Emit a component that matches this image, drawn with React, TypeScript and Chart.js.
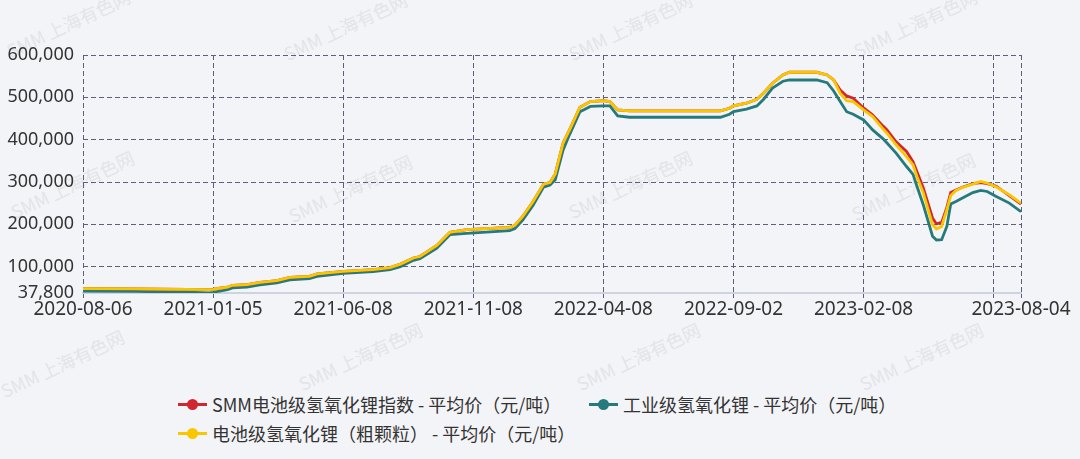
import React, { useEffect, useRef } from 'react';
import { Chart, registerables } from 'chart.js';

Chart.register(...registerables);

// trading-day index (0 = 2020-08-06, 721 = 2023-08-04)
const dayIndex = [
  0, 40, 80, 97, 100, 105, 111, 115, 126, 136, 149, 159, 174, 180, 200, 223, 236, 244, 254, 259,
  272, 282, 295, 328, 332, 338, 346, 354, 359, 363, 369, 374, 382, 390, 400, 405, 411, 420, 490, 497,
  500, 510, 518, 523, 530, 538, 543, 564, 572, 577, 582, 587, 592, 600, 607, 615, 618, 625, 633, 638,
  641, 646, 653, 656, 660, 664, 667, 671, 676, 684, 690, 695, 702, 712, 721,
];

// SMM电池级氢氧化锂指数 - 平均价（元/吨）
const smmIndex = [
  48000, 47500, 46500, 45800, 46500, 49000, 51500, 56000, 57600, 63000, 67000, 74800, 77100, 82800, 89000, 93000, 98000, 106000, 120500, 124000,
  150000, 181000, 187300, 192700, 197400, 218600, 254000, 295000, 298800, 319000, 391700, 423000, 476600, 489900, 492300, 490000, 470300, 467900, 467900, 474200,
  479700, 486100, 495500, 509700, 533300, 552800, 559200, 559200, 552800, 541000, 517400, 503300, 497900, 475000, 458000, 432000, 423100, 395000, 372000, 348000,
  325000, 285000, 215000, 201000, 204500, 240000, 275000, 281000, 287500, 296000, 298800, 296000, 290000, 268000, 248000,
];

// 工业级氢氧化锂 - 平均价（元/吨）
const industrial = [
  42000, 41500, 40000, 38000, 39500, 42500, 45500, 50000, 52000, 57000, 61500, 69000, 72000, 77000, 84000, 88500, 93000, 100000, 115000, 119000,
  144000, 175500, 178500, 185000, 190000, 210000, 245000, 288000, 293000, 305000, 375000, 412000, 466000, 478500, 479700, 479700, 456100, 453000, 453000, 460000,
  466300, 472000, 479700, 495000, 522000, 538000, 541000, 541000, 534700, 515000, 490000, 466000, 460000, 446700, 423100, 402000, 392000, 368100, 336600, 318000,
  290000, 245000, 172000, 163000, 163700, 195000, 248000, 254000, 262000, 275000, 280000, 277600, 265800, 250200, 230000,
];

// 电池级氢氧化锂（粗颗粒） - 平均价（元/吨）
const coarse = [
  48000, 47500, 46500, 45800, 46500, 49000, 51500, 56000, 57600, 63000, 67000, 74800, 77100, 82800, 89000, 93000, 98000, 106000, 120500, 124000,
  150000, 181000, 187300, 192700, 197400, 218600, 254000, 295000, 298800, 319000, 391700, 423000, 476600, 489900, 492300, 490000, 470300, 467900, 467900, 474200,
  479700, 486100, 495500, 509700, 533300, 552800, 559200, 559200, 552800, 541000, 509700, 492300, 490000, 470300, 454500, 425000, 415300, 388000, 360100, 340600,
  313000, 273800, 199100, 189000, 195000, 234400, 268000, 280000, 287000, 295000, 301300, 297500, 288000, 269800, 250000,
];

const xTickIndex = [0, 100, 200, 300, 400, 500, 600, 700, 721];
const xTickLabels = ['2020-08-06', '2021-01-05', '2021-06-08', '2021-11-08', '2022-04-08', '2022-09-02', '2023-02-08', '', '2023-08-04'];
const yTickValues = [37800, 100000, 200000, 300000, 400000, 500000, 600000];

const seriesNames = [
  'SMM电池级氢氧化锂指数 - 平均价（元/吨）',
  '工业级氢氧化锂 - 平均价（元/吨）',
  '电池级氢氧化锂（粗颗粒） - 平均价（元/吨）',
];
const seriesColors = ['#d0262d', '#257a7c', '#f8c700'];

const watermarkPos = [
  [68, 22], [345, 25], [630, 25], [915, 22],
  [72, 183], [350, 187], [630, 183], [913, 185],
  [62, 362], [360, 355], [638, 355], [921, 355],
];

const FONT = "'Noto Sans', 'Noto Sans CJK SC', sans-serif";

function LegendItem({ color, label, left, top }: { color: string; label: string; left: number; top: number }) {
  return (
    <div style={{ position: 'absolute', left, top, height: 24, display: 'flex', alignItems: 'center', whiteSpace: 'nowrap' }}>
      <div style={{ position: 'relative', width: 29, height: 24, marginRight: 5 }}>
        <div style={{ position: 'absolute', left: 0, top: 11, width: 29, height: 2.5, background: color }} />
        <div style={{ position: 'absolute', left: 9, top: 6.5, width: 11, height: 11, borderRadius: '50%', background: color }} />
      </div>
      <span style={{ fontFamily: "'Noto Sans CJK SC', sans-serif", fontSize: 18, color: '#333' }}>{label}</span>
    </div>
  );
}

export default function App() {
  const ref = useRef<HTMLCanvasElement | null>(null);

  useEffect(() => {
    document.body.style.margin = '0';
    const canvas = ref.current;
    if (!canvas) return;
    const mk = (vals: number[]) => dayIndex.map((x, i) => ({ x, y: vals[i] }));
    const chart = new Chart(canvas, {
      type: 'line',
      data: {
        datasets: [
          { label: seriesNames[2], data: mk(coarse), borderColor: seriesColors[2], backgroundColor: seriesColors[2], borderWidth: 2.8, pointRadius: 0, tension: 0, order: 0 },
          { label: seriesNames[0], data: mk(smmIndex), borderColor: seriesColors[0], backgroundColor: seriesColors[0], borderWidth: 2.8, pointRadius: 0, tension: 0, order: 1 },
          { label: seriesNames[1], data: mk(industrial), borderColor: seriesColors[1], backgroundColor: seriesColors[1], borderWidth: 2.8, pointRadius: 0, tension: 0, order: 2 },
        ],
      },
      options: {
        animation: false,
        responsive: false,
        layout: { padding: { top: 55, right: 59, left: 0, bottom: 0 } },
        plugins: { legend: { display: false }, tooltip: { enabled: false } },
        scales: {
          x: {
            type: 'linear',
            min: 0,
            max: 721,
            afterBuildTicks: (s: any) => { s.ticks = xTickIndex.map((v) => ({ value: v })); },
            afterFit: (s: any) => { s.height = 37; },
            ticks: {
              autoSkip: false,
              maxRotation: 0,
              padding: 0,
              color: '#333',
              font: { family: FONT, size: 19 },
              callback: (v: any) => {
                const i = xTickIndex.indexOf(Number(v));
                return i >= 0 ? xTickLabels[i] : '';
              },
            },
            grid: { color: '#5c607a', lineWidth: 1, drawTicks: true, tickLength: 5 },
            border: { display: true, color: '#cfd2df', width: 2, dash: [5, 3] },
          },
          y: {
            min: 37800,
            max: 600000,
            afterBuildTicks: (s: any) => { s.ticks = yTickValues.map((v) => ({ value: v })); },
            afterFit: (s: any) => { s.width = 83; },
            ticks: {
              padding: 9,
              color: '#333',
              font: { family: FONT, size: 18 },
              callback: (v: any) => Number(v).toLocaleString('en-US'),
            },
            grid: {
              color: (c: any) => (c.tick && c.tick.value === 37800 ? 'rgba(0,0,0,0)' : '#5c607a'),
              lineWidth: 1,
              drawTicks: false,
            },
            border: { display: false, dash: [5, 3] },
          },
        },
      },
    });
    return () => chart.destroy();
  }, []);

  return (
    <div style={{ position: 'relative', width: 1080, height: 459, background: '#f3f4f7', overflow: 'hidden' }}>
      {watermarkPos.map(([x, y], i) => (
        <div
          key={i}
          style={{
            position: 'absolute',
            left: x - 70,
            top: y - 12,
            width: 140,
            textAlign: 'center',
            transform: 'rotate(-25deg)',
            fontFamily: "'Noto Sans CJK SC', sans-serif",
            fontSize: 18,
            color: '#e3e4e8',
            whiteSpace: 'nowrap',
          }}
        >
          SMM 上海有色网
        </div>
      ))}
      <canvas ref={ref} width={1080} height={330} style={{ position: 'absolute', left: 0, top: 0, width: 1080, height: 330 }} />
      <LegendItem color={seriesColors[0]} label={seriesNames[0]} left={178} top={392} />
      <LegendItem color={seriesColors[1]} label={seriesNames[1]} left={589} top={392} />
      <LegendItem color={seriesColors[2]} label={seriesNames[2]} left={178} top={421} />
    </div>
  );
}
